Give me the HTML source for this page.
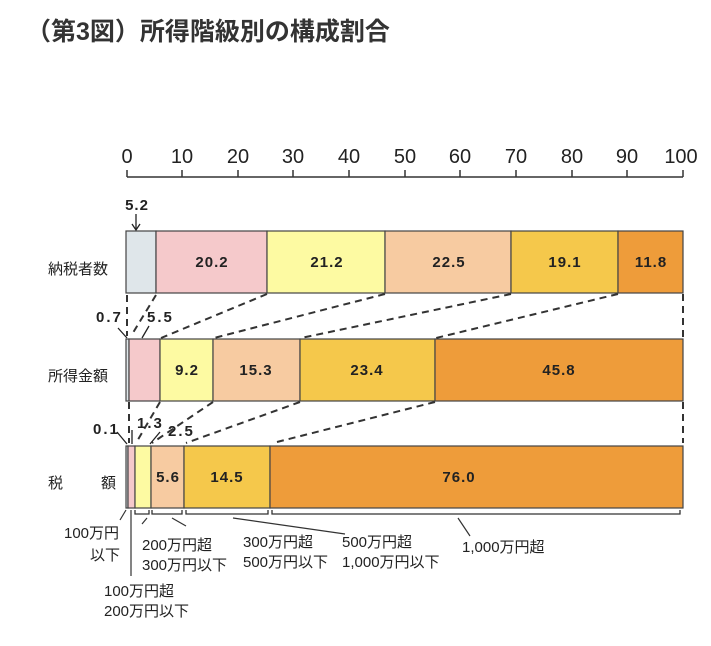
<!DOCTYPE html>
<html><head><meta charset="utf-8"><style>
html,body{margin:0;padding:0;background:#fff;width:711px;height:646px;overflow:hidden}
svg{display:block}
text{font-family:"Liberation Sans","Noto Sans CJK JP",sans-serif}
.v{font-size:15px;font-weight:bold;fill:#222;text-anchor:middle;letter-spacing:1px}
.l{font-size:15px;fill:#222}
.d{stroke:#333;stroke-width:2;stroke-dasharray:7,5;fill:none}
.s{stroke:#444;stroke-width:1.2}
</style></head><body>
<svg width="711" height="646" viewBox="0 0 711 646">
<text x="26" y="40" style="font-size:25px;font-weight:bold;fill:#333">（第3図）所得階級別の構成割合</text>
<g font-size="20" fill="#222" text-anchor="middle">
<text x="127" y="163">0</text><text x="182" y="163">10</text><text x="238" y="163">20</text><text x="293" y="163">30</text><text x="349" y="163">40</text><text x="405" y="163">50</text><text x="460" y="163">60</text><text x="516" y="163">70</text><text x="572" y="163">80</text><text x="627" y="163">90</text><text x="681" y="163">100</text>
</g>
<path d="M127 177H683M127 170V177M182 170V177M238 170V177M293 170V177M349 170V177M405 170V177M460 170V177M516 170V177M572 170V177M627 170V177M683 170V177" stroke="#333" stroke-width="1.5" fill="none"/>
<g class="s">
<rect x="126" y="231" width="30" height="62" fill="#dfe6ea"/>
<rect x="156" y="231" width="111" height="62" fill="#f5c9cb"/>
<rect x="267" y="231" width="118" height="62" fill="#fdfaa2"/>
<rect x="385" y="231" width="126" height="62" fill="#f7cba1"/>
<rect x="511" y="231" width="107" height="62" fill="#f5c84b"/>
<rect x="618" y="231" width="65" height="62" fill="#ee9c3a"/>
</g>
<text class="v" x="212" y="267">20.2</text><text class="v" x="327" y="267">21.2</text><text class="v" x="449" y="267">22.5</text><text class="v" x="565" y="267">19.1</text><text class="v" x="651" y="267">11.8</text>
<text class="v" x="137" y="210">5.2</text>
<path d="M136 214V229M132 224L136 230L140 224" stroke="#222" stroke-width="1.3" fill="none"/>
<g class="s">
<rect x="126" y="339" width="3" height="62" fill="#dfe6ea"/>
<rect x="129" y="339" width="31" height="62" fill="#f5c9cb"/>
<rect x="160" y="339" width="53" height="62" fill="#fdfaa2"/>
<rect x="213" y="339" width="87" height="62" fill="#f7cba1"/>
<rect x="300" y="339" width="135" height="62" fill="#f5c84b"/>
<rect x="435" y="339" width="248" height="62" fill="#ee9c3a"/>
</g>
<text class="v" x="187" y="375">9.2</text><text class="v" x="256" y="375">15.3</text><text class="v" x="367" y="375">23.4</text><text class="v" x="559" y="375">45.8</text>
<text class="l" x="96" y="322" style="font-weight:bold;letter-spacing:2px">0.7</text>
<text class="l" x="147" y="322" style="font-weight:bold;letter-spacing:2px">5.5</text>
<path class="d" d="M127 295V336M156 295L131 336M267 294L161 338M385 294L214 338M511 294L301 338M618 294L436 338M683 294V338"/>
<path d="M118 328L127 338M149 326L142 338" stroke="#222" stroke-width="1.3"/>
<g class="s">
<rect x="126" y="446" width="2" height="62" fill="#dfe6ea"/>
<rect x="128" y="446" width="7" height="62" fill="#f5c9cb"/>
<rect x="135" y="446" width="16" height="62" fill="#fdfaa2"/>
<rect x="151" y="446" width="33" height="62" fill="#f7cba1"/>
<rect x="184" y="446" width="86" height="62" fill="#f5c84b"/>
<rect x="270" y="446" width="413" height="62" fill="#ee9c3a"/>
</g>
<text class="v" x="168" y="482">5.6</text><text class="v" x="227" y="482">14.5</text><text class="v" x="459" y="482">76.0</text>
<path class="d" d="M129 402V443M160 402L136 443M213 402L152 443M300 402L186 443M435 402L273 443M683 402V443"/>
<text class="l" x="93" y="434" style="font-weight:bold;letter-spacing:2px">0.1</text>
<text class="l" x="137" y="428" style="font-weight:bold;letter-spacing:2px">1.3</text>
<text class="l" x="168" y="436" style="font-weight:bold;letter-spacing:2px">2.5</text>
<path d="M117 432L127 444M132 430V444M160 432L150 444" stroke="#222" stroke-width="1.3"/>
<g style="font-size:15px;fill:#222">
<text x="48" y="274">納税者数</text>
<text x="48" y="381">所得金額</text>
<text x="48" y="488">税</text><text x="101" y="488">額</text>
</g>
<path d="M135 510v4h14v-4M152 510v4h30v-4M186 510v4h82v-4M272 510v4h408v-4" stroke="#333" stroke-width="1.3" fill="none"/>
<path d="M126 510L120 520M131 510V576M147 518L142 524M172 518L186 526M233 518L345 534M458 518L470 536" stroke="#333" stroke-width="1.2" fill="none"/>
<g class="l">
<text x="64" y="538">100万円</text><text x="90" y="560">以下</text>
<text x="142" y="550">200万円超</text><text x="142" y="570">300万円以下</text>
<text x="243" y="547">300万円超</text><text x="243" y="567">500万円以下</text>
<text x="342" y="547">500万円超</text><text x="342" y="567">1,000万円以下</text>
<text x="462" y="552">1,000万円超</text>
<text x="104" y="596">100万円超</text><text x="104" y="616">200万円以下</text>
</g>
</svg>
</body></html>
